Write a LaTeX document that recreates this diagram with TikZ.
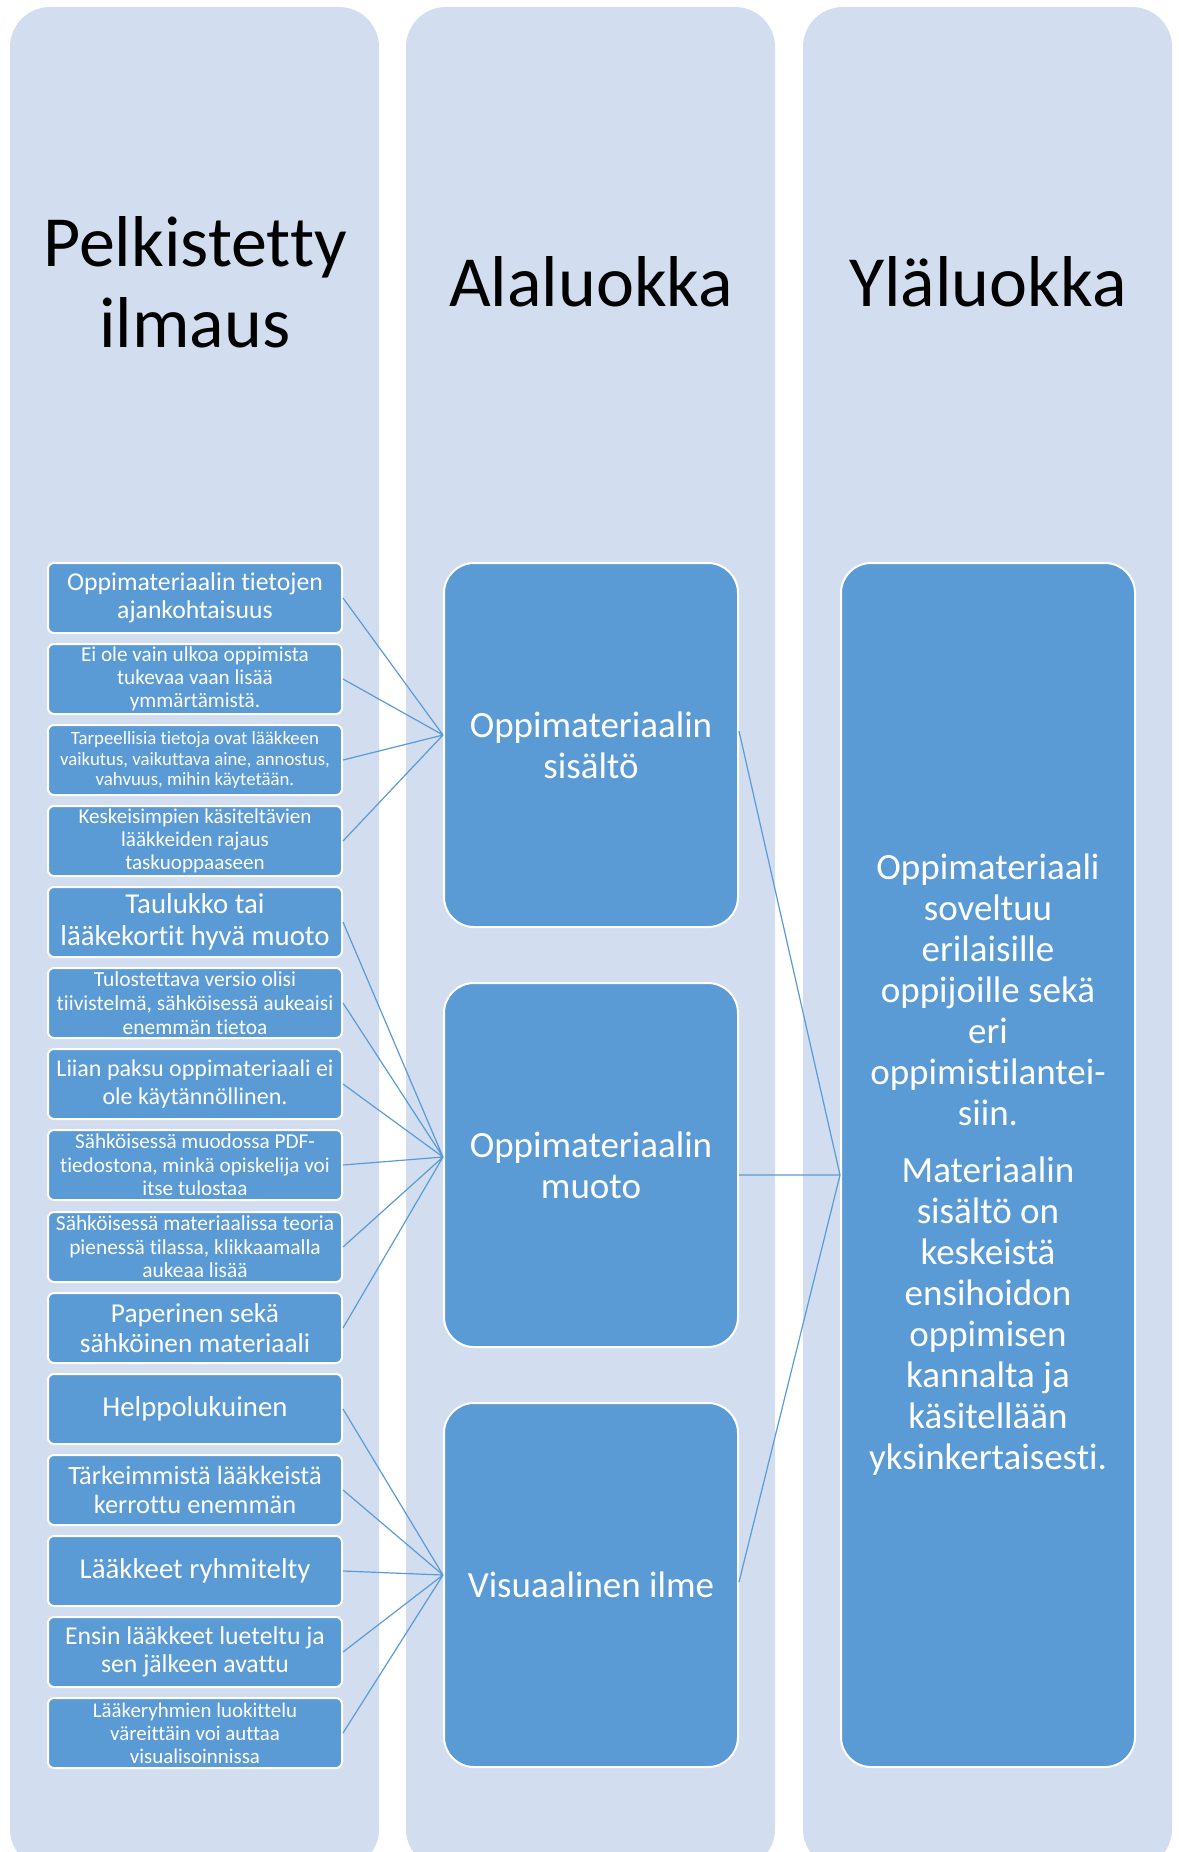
\documentclass[tikz,border=0pt]{standalone}
\usepackage{fontspec}
\setmainfont{Carlito}[Ligatures=NoCommon]
\usepackage{tikz}
\usetikzlibrary{positioning, calc}

\definecolor{lanebg}{HTML}{D2DEEF}
\definecolor{boxblue}{HTML}{5B9BD5}

\tikzset{
  lane/.style={fill=lanebg, rounded corners=40pt},
  head/.style={text=black, align=center, font=\fontsize{72}{81}\selectfont},
  fs/.style 2 args={font=\fontsize{#1}{#2}\selectfont},
  item/.style={draw=white, line width=2pt, fill=boxblue, text=white, rounded corners=6pt,
    minimum width=294pt, minimum height=70pt, inner xsep=3pt, inner ysep=0pt, align=center},
  cat/.style={item, rounded corners=30pt, minimum height=364pt, fs={37}{41}},
  link/.style={draw=boxblue, line width=1.2pt},
}

\begin{document}
\begin{tikzpicture}[x=1pt, y=-1pt]
    \useasboundingbox (0,0) rectangle (1178,1852);
    % 列
    \fill[lane] (10,7) rectangle (379,1869);
    \fill[lane] (406,7) rectangle (775,1869);
    \fill[lane] (803,7) rectangle (1172,1869);
    % 見出し
    \node[head] (h1) at (195,282) {Pelkistetty\\ilmaus};
    \node[head] (h2) at (591,282) {Alaluokka};
    \node[head] (h3) at (988,282) {Yläluokka};
    % 左の項目
    \node[item, fs={25.7}{28.3}] (p1) at (195,598) {Oppimateriaalin tietojen\\ajankohtaisuus};
    \node[item, fs={21.2}{23.3}] (p2) at (195,679) {Ei ole vain ulkoa oppimista\\tukevaa vaan lisää\\ymmärtämistä.};
    \node[item, fs={18.8}{20.7}] (p3) at (195,760) {Tarpeellisia tietoja ovat lääkkeen\\vaikutus, vaikuttava aine, annostus,\\vahvuus, mihin käytetään.};
    \node[item, fs={21.1}{23.2}] (p4) at (195,841) {Keskeisimpien käsiteltävien\\lääkkeiden rajaus\\taskuoppaaseen};
    \node[item, fs={28.8}{31.7}] (p5) at (195,922) {Taulukko tai\\lääkekortit hyvä muoto};
    \node[item, fs={21.5}{23.7}] (p6) at (195,1003) {Tulostettava versio olisi\\tiivistelmä, sähköisessä aukeaisi\\enemmän tietoa};
    \node[item, fs={24}{27.7}] (p7) at (195,1084) {Liian paksu oppimateriaali ei\\ole käytännöllinen.};
    \node[item, fs={21.2}{23.3}] (p8) at (195,1165) {Sähköisessä muodossa PDF-\\tiedostona, minkä opiskelija voi\\itse tulostaa};
    \node[item, fs={21.4}{23.5}] (p9) at (195,1247) {Sähköisessä materiaalissa teoria\\pienessä tilassa, klikkaamalla\\aukeaa lisää};
    \node[item, fs={27.3}{30}] (p10) at (195,1328) {Paperinen sekä\\sähköinen materiaali};
    \node[item, fs={28.8}{31.7}] (p11) at (195,1409) {Helppolukuinen};
    \node[item, fs={26.4}{29}] (p12) at (195,1490) {Tärkeimmistä lääkkeistä\\kerrottu enemmän};
    \node[item, fs={28.8}{31.7}] (p13) at (195,1571) {Lääkkeet ryhmitelty};
    \node[item, fs={25.7}{28.3}] (p14) at (195,1652) {Ensin lääkkeet lueteltu ja\\sen jälkeen avattu};
    \node[item, fs={20.9}{23}] (p15) at (195,1733) {Lääkeryhmien luokittelu\\väreittäin voi auttaa\\visualisoinnissa};
    % alaluokat
    \node[cat] (sis) at (591,745) {Oppimateriaalin\\sisältö};
    \node[cat] (muoto) at (591,1165) {Oppimateriaalin\\muoto};
    \node[cat] (ilme) at (591,1585) {Visuaalinen ilme};
    % yläluokka
    \node[cat, minimum height=1204pt] (yla) at (988,1165) {Oppimateriaali\\soveltuu\\erilaisille\\oppijoille sekä\\eri\\oppimistilantei-\\siin.\\[16pt]Materiaalin\\sisältö on\\keskeistä\\ensihoidon\\oppimisen\\kannalta ja\\käsitellään\\yksinkertaisesti.};
    % 接続線
    \draw[link] (p1.east) -- ([yshift=10pt]sis.west) (p2.east) -- ([yshift=10pt]sis.west)
                (p3.east) -- ([yshift=10pt]sis.west) (p4.east) -- ([yshift=10pt]sis.west);
    \draw[link] (p5.east) -- ([yshift=8pt]muoto.west) (p6.east) -- ([yshift=8pt]muoto.west) (p7.east) -- ([yshift=8pt]muoto.west)
                (p8.east) -- ([yshift=8pt]muoto.west) (p9.east) -- ([yshift=8pt]muoto.west) (p10.east) -- ([yshift=8pt]muoto.west);
    \draw[link] (p11.east) -- ([yshift=10pt]ilme.west) (p12.east) -- ([yshift=10pt]ilme.west) (p13.east) -- ([yshift=10pt]ilme.west)
                (p14.east) -- ([yshift=10pt]ilme.west) (p15.east) -- ([yshift=10pt]ilme.west);
    \draw[link] ([yshift=14pt]sis.east) -- ([yshift=-10pt]yla.west) ([yshift=-10pt]muoto.east) -- ([yshift=-10pt]yla.west)
                ([yshift=3pt]ilme.east) -- ([yshift=-10pt]yla.west);
\end{tikzpicture}
\end{document}
